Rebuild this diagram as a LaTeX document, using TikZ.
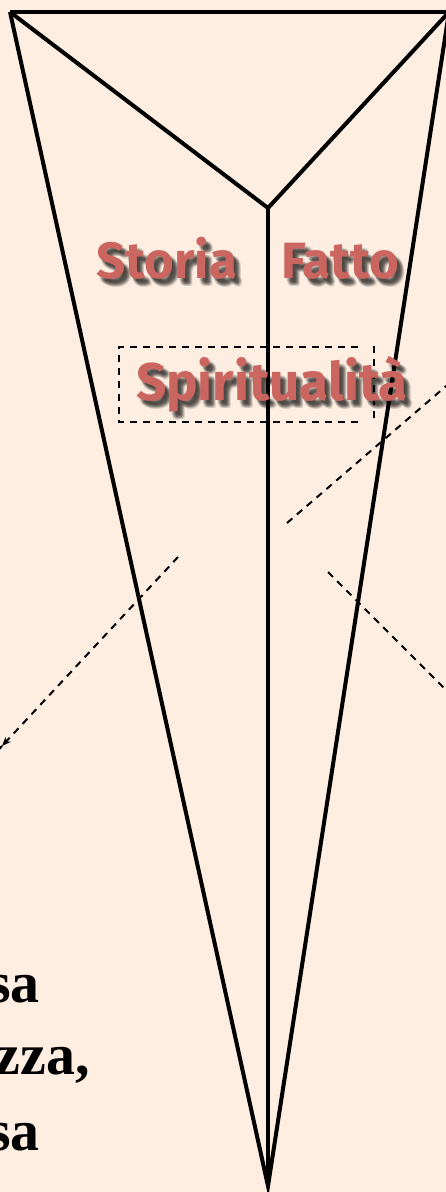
\documentclass[tikz,border=0pt]{standalone}
\usepackage{fontspec}
\setmainfont{Liberation Serif}
\newfontfamily\labfont{Fira Sans}
\usetikzlibrary{arrows.meta}
\definecolor{bg}{HTML}{FDEEE1}
\definecolor{lab}{HTML}{CB6560}
\tikzset{
  solidline/.style={line width=4pt, line join=miter, black},
  dashline/.style={line width=2pt, dash pattern=on 7pt off 6pt, black},
  labtext/.style={font=\labfont\bfseries\fontsize{51}{51}\selectfont, text=lab, inner sep=0pt},
  shadowtext/.style={font=\labfont\bfseries\fontsize{51}{51}\selectfont, text=black, opacity=0.09, inner sep=0pt},
  biglab/.style={font=\labfont\bfseries\fontsize{53}{53}\selectfont},
  bottomtext/.style={font=\bfseries\fontsize{58}{58}\selectfont, inner sep=0pt, anchor=base east}
}
\begin{document}
\begin{tikzpicture}[x=1pt,y=-1pt]
\fill[bg] (0,0) rectangle (446,1192);
\useasboundingbox (0,0) rectangle (446,1192);
\clip (0,0) rectangle (446,1192);
% vertices
\coordinate (TL) at (10,12);
\coordinate (TR) at (449,12);
\coordinate (M) at (268,208);
\coordinate (B) at (268,1186);
% shape
\draw[solidline] (TL) -- (TR);
\draw[solidline] (TL) -- (M) -- (TR);
\draw[solidline] (TL) -- (B) -- (TR);
\draw[solidline] (M) -- (B);
% dashed box
\coordinate (bx1) at (119,347);
\coordinate (bx2) at (358,347);
\coordinate (bx3) at (358,422);
\coordinate (bx4) at (119,422);
\draw[dashline] (bx2) -- (bx1) -- (bx4) -- (bx3);
\coordinate (vr1) at (374,346);
\coordinate (vr2) at (374,421);
\draw[dashline] (vr1) -- (vr2);
% labels with shadow
\foreach \dx/\dy in {2/3,3/4,4/5,5/6,6/7,7/8,3/6,5/4,4/7,6/5,5/8,7/6} {
  \node[shadowtext, anchor=base] at (167+\dx,278+\dy) {Storia};
  \node[shadowtext, anchor=base] at (340+\dx,278+\dy) {Fatto};
  \node[shadowtext, biglab, anchor=base] at (272+\dx,400+\dy) {Spiritualità};
}
\node[labtext, anchor=base] (storia) at (167,278) {Storia};
\node[labtext, anchor=base] (fatto) at (340,278) {Fatto};
\node[labtext, biglab, anchor=base] (spirit) at (272,400) {Spiritualità};
% dashed connectors
\coordinate (a1) at (178,557);
\coordinate (a2) at (2,746);
\draw[dashline, -{Stealth[length=9pt,width=7pt]}] (a1) -- (a2);
\coordinate (a3) at (2,746);
\coordinate (a4) at (-6,755);
\draw[dashline] (a3) -- (a4);
\coordinate (c1) at (287,523);
\coordinate (c2) at (452,381);
\draw[dashline] (c1) -- (c2);
\coordinate (d1) at (328,572);
\coordinate (d2) at (452,696);
\draw[dashline] (d1) -- (d2);
% bottom text
\node[bottomtext] (t1) at (40,1002) {sa};
\node[bottomtext] (t2) at (90,1074) {zza,};
\node[bottomtext] (t3) at (40,1150) {sa};
\end{tikzpicture}
\end{document}
